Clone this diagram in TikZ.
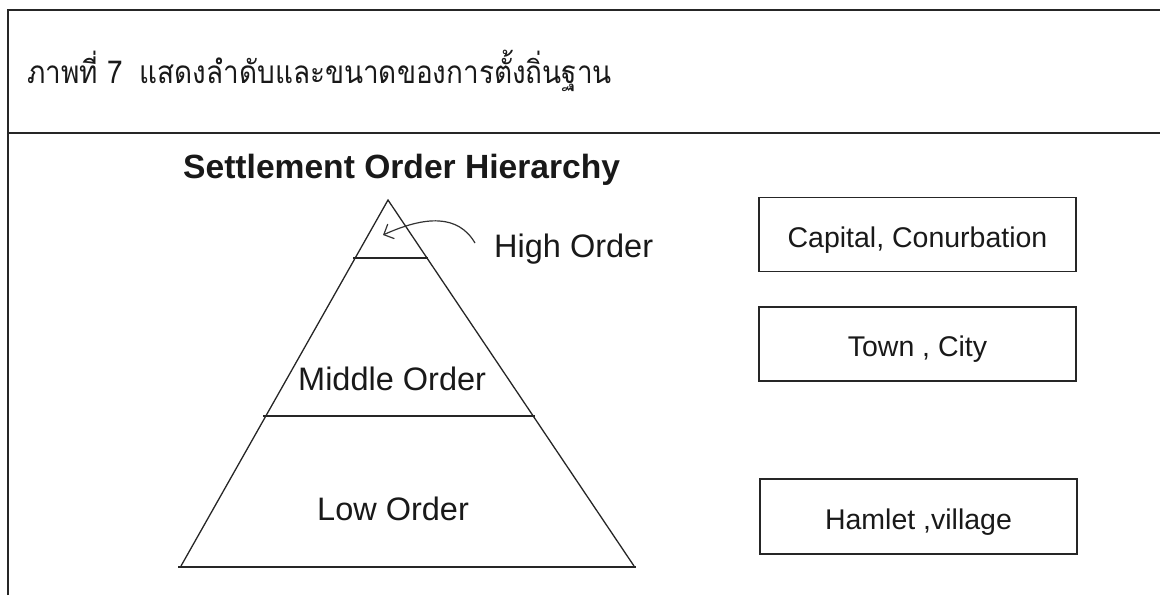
\documentclass[tikz,border=0pt]{standalone}
\usepackage{fontspec}
\setmainfont{Liberation Sans}
\newfontfamily\thaifont[Script=Thai]{Loma}
\usetikzlibrary{arrows.meta}
\begin{document}
\begin{tikzpicture}[x=1pt,y=-1pt,
  frameline/.style={line width=1.6pt,draw=black!85},
  side/.style={line width=1.3pt,draw=black!85},
  tier/.style={line width=2.2pt,draw=black!85},
  lbl/.style={inner sep=0pt,anchor=base west,font=\fontsize{32.5}{36}\selectfont,text=black!90},
  box/.style={draw=black!85,line width=1.5pt,minimum width=317pt,minimum height=74pt,inner sep=0pt,
    text height=25pt,text depth=0pt,font=\fontsize{28.5}{34}\selectfont,text=black!90}]
\useasboundingbox (0,0) rectangle (1160,595);
% frame
\coordinate (ftl) at (8,10);
\coordinate (ftr) at (1160,10);
\coordinate (fsl) at (8,133);
\coordinate (fsr) at (1160,133);
\coordinate (fbl) at (8,595);
\draw[frameline] (fbl) -- (ftl) -- (ftr);
\draw[frameline] (fsl) -- (fsr);
% caption
\node[inner sep=0pt,anchor=base west,font=\thaifont\fontsize{30}{36}\selectfont,text=black!90] (cap) at (27,83)
  {\scalebox{0.93}[1.05]{ภาพที่ 7\hspace{0.6em}แสดงลำดับและขนาดของการตั้งถิ่นฐาน}};
% title
\node[inner sep=0pt,anchor=base west,font=\bfseries\fontsize{33.6}{38}\selectfont,text=black!90] (title) at (183,178)
  {Settlement Order Hierarchy};
% pyramid
\coordinate (apex) at (388,200);
\coordinate (bl) at (181,566);
\coordinate (br) at (634,566);
\draw[side] (bl) -- (apex) -- (br);
\coordinate (hl) at (353,258);
\coordinate (hr) at (428,258);
\coordinate (ml) at (263,416);
\coordinate (mr) at (535,416);
\coordinate (bbl) at (178,567);
\coordinate (bbr) at (636,567);
\draw[tier] (hl) -- (hr);
\draw[tier] (ml) -- (mr);
\draw[tier] (bbl) -- (bbr);
\node[lbl] (high) at (494,257) {High Order};
\node[lbl] (mid) at (298,390) {Middle Order};
\node[lbl] (low) at (317,520) {Low Order};
\coordinate (hotail) at (475,243);
\coordinate (hotip) at (383,235);
\draw[line width=1.2pt,draw=black!80,-{Straight Barb[length=8pt,width=16pt]}] (hotail) .. controls (458,214) and (425,216) .. (hotip);
% boxes
\node[box] (b1) at (917.5,234.5) {Capital, Conurbation};
\node[box] (b2) at (917.5,344) {Town , City};
\node[box,minimum height=75pt] (b3) at (918.5,516.5) {Hamlet ,village};
\end{tikzpicture}
\end{document}
